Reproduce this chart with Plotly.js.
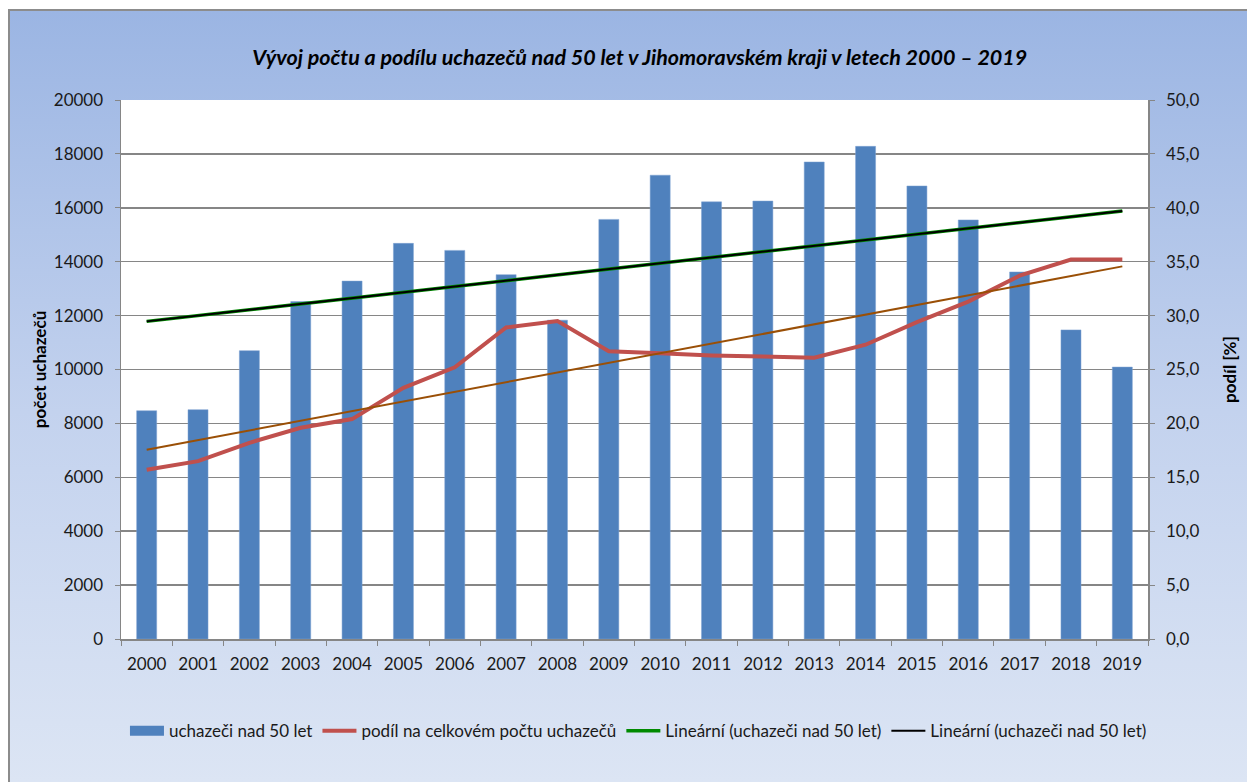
<!DOCTYPE html>
<html>
<head>
<meta charset="utf-8">
<script src="https://cdn.plot.ly/plotly-3.0.1.min.js"></script>
<style>
  html, body { margin: 0; padding: 0; background: #ffffff; overflow: hidden; width: 1247px; height: 782px; position: relative; }
  #frame { position: absolute; left: 8px; top: 9px; width: 1237px; height: 771px;
           border-left: 2px solid #8c8c8c; border-top: 2px solid #8c8c8c;
           background: linear-gradient(to bottom, #9bb5e3 0px, #c3d2ee 400px, #dce5f4 771px); }
  #chart { position: absolute; left: 0; top: 0; width: 1247px; height: 782px; }
</style>
</head>
<body>
<div id="frame"></div>
<div id="chart"></div>
<script>
const years = ["2000","2001","2002","2003","2004","2005","2006","2007","2008","2009",
               "2010","2011","2012","2013","2014","2015","2016","2017","2018","2019"];
const applicants = [8470, 8510, 10700, 12520, 13280, 14680, 14420, 13520, 11830, 15570,
                    17210, 16220, 16250, 17700, 18280, 16810, 15550, 13620, 11470, 10090];
const sharePct = [15.7, 16.5, 18.2, 19.6, 20.4, 23.3, 25.2, 28.9, 29.5, 26.7,
                  26.5, 26.3, 26.2, 26.1, 27.3, 29.4, 31.3, 33.7, 35.2, 35.2];

// Linear trend (least squares) as drawn by the spreadsheet
function linFit(vals) {
  const n = vals.length;
  let sx = 0, sy = 0, sxx = 0, sxy = 0;
  vals.forEach((v, i) => { sx += i; sy += v; sxx += i * i; sxy += i * v; });
  const b = (n * sxy - sx * sy) / (n * sxx - sx * sx);
  const a = (sy - b * sx) / n;
  return vals.map((v, i) => a + b * i);
}
const trendApplicants = linFit(applicants);
const trendShare = linFit(sharePct);

const font = "Lato, 'Open Sans', sans-serif";
const txt = "#1a1a1a";
const barColor = "#4f81bd";

const traces = [
  { type: "bar", x: years, y: applicants, name: "uchazeči nad 50 let", showlegend: false,
    marker: { color: barColor, line: { color: "#7ea3d3", width: 0.5 } }, yaxis: "y" },
  // legend swatch for the bars (wide rectangle, as in the original legend)
  { type: "scatter", mode: "lines", x: [null], y: [null], name: "uchazeči nad 50 let",
    line: { color: barColor, width: 13 }, yaxis: "y" },
  { type: "scatter", mode: "lines", x: years, y: sharePct, name: "podíl na celkovém počtu uchazečů",
    line: { color: "#c0504d", width: 4 }, yaxis: "y2" },
  { type: "scatter", mode: "lines", x: years, y: trendShare, name: "trend podílu", showlegend: false,
    line: { color: "#9a4f06", width: 2 }, yaxis: "y2" },
  { type: "scatter", mode: "lines", x: years, y: trendApplicants, name: "Lineární (uchazeči nad 50 let)",
    line: { color: "#008a00", width: 3.5 }, yaxis: "y" },
  { type: "scatter", mode: "lines", x: years, y: trendApplicants, name: "Lineární (uchazeči nad 50 let)",
    line: { color: "#000000", width: 2 }, yaxis: "y" }
];

const layout = {
  width: 1247, height: 782,
  paper_bgcolor: "rgba(0,0,0,0)",
  plot_bgcolor: "#ffffff",
  separators: ",.",
  font: { family: font, size: 17, color: txt },
  margin: { l: 121, r: 99, t: 100, b: 143 },
  title: { text: "<b><i>Vývoj počtu a podílu uchazečů nad 50 let v Jihomoravském kraji v letech 2000 – 2019</i></b>",
           font: { family: font, size: 21.5, color: "#000000" },
           x: 0.513, xanchor: "center", xref: "container", y: 0.927, yanchor: "middle", yref: "container" },
  bargap: 0.61,
  showlegend: true,
  legend: { orientation: "h", x: 0.512, xanchor: "center", xref: "container",
            y: 0.065, yanchor: "middle", yref: "container",
            font: { family: font, size: 17, color: txt }, bgcolor: "rgba(0,0,0,0)",
            traceorder: "normal", itemwidth: 34 },
  xaxis: { type: "category", tickson: "boundaries", ticks: "outside", ticklen: 5, tickcolor: "#868686",
           showline: true, linecolor: "#868686", linewidth: 1.5, showgrid: false,
           ticklabelstandoff: 9,
           tickfont: { family: font, size: 17, color: txt }, fixedrange: true },
  yaxis: { range: [0, 20000], dtick: 2000, tickformat: "d", exponentformat: "none",
           showgrid: true, gridcolor: "#868686", gridwidth: 1.5,
           showline: true, linecolor: "#868686", linewidth: 1.5, ticks: "outside", ticklen: 5, tickcolor: "#868686",
           ticklabelstandoff: 8,
           zeroline: false, tickfont: { family: font, size: 17, color: txt },
           title: { text: "<b>počet uchazečů</b>", font: { family: font, size: 17, color: "#000000" }, standoff: 3 } },
  yaxis2: { range: [0, 50], dtick: 5, tickformat: ".1f", overlaying: "y", side: "right",
            showgrid: false, zeroline: false,
            showline: true, linecolor: "#868686", linewidth: 1.5, ticks: "outside", ticklen: 5, tickcolor: "#868686",
            ticklabelstandoff: 8,
            tickfont: { family: font, size: 17, color: txt },
            title: { text: "<b>podíl [%]</b>", font: { family: font, size: 17, color: "#000000" }, standoff: 25 } }
};

Plotly.newPlot("chart", traces, layout, { displayModeBar: false, staticPlot: true });
</script>
</body>
</html>
